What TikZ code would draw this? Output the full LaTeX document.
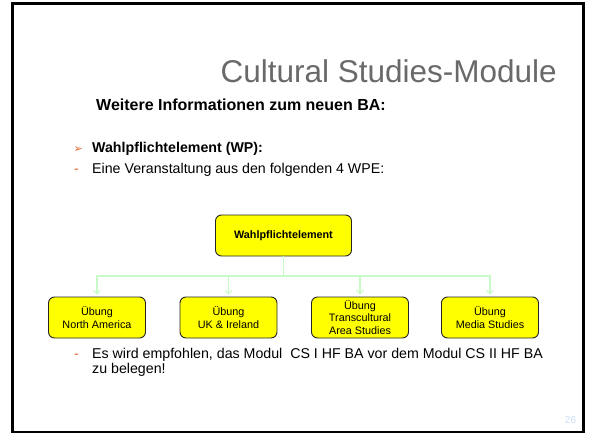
\documentclass[tikz,border=0pt]{standalone}
\usepackage{fontspec}
\setmainfont{Liberation Sans}
\newfontfamily\symfont{DejaVu Sans}
\usetikzlibrary{arrows.meta}
\definecolor{titlegray}{RGB}{105,105,105}
\definecolor{bulletorange}{RGB}{232,100,44}
\definecolor{connGreen}{RGB}{200,250,200}
\definecolor{pagenum}{RGB}{200,222,245}
\definecolor{boxyellow}{RGB}{255,255,0}
\tikzset{
  wpbox/.style={draw=black!85, fill=boxyellow, rounded corners=6pt, line width=0.9pt,
    minimum width=97pt, minimum height=41pt, align=center, inner sep=1pt,
    font=\fontsize{10.8}{12.3}\selectfont},
  conn/.style={draw=connGreen, line width=1.5pt},
  connarrow/.style={conn, -{Straight Barb[length=3.5pt,width=7pt,line width=1pt]}},
  bodytext/.style={anchor=base west, inner sep=0pt, font=\fontsize{14.2}{15.5}\selectfont},
}
\begin{document}
\begin{tikzpicture}[x=1pt,y=-1pt]
\useasboundingbox (0,0) rectangle (589,433);
\draw[line width=3pt] (12.5,4) rectangle (583,432);

\node[anchor=base east, inner sep=0pt, text=titlegray, font=\fontsize{31.5}{38}\selectfont] (title) at (557,82.5) {Cultural Studies-Module};
\node[anchor=base west, inner sep=0pt, font=\bfseries\fontsize{16}{19}\selectfont] (sub) at (96,110.5) {Weitere Informationen zum neuen BA:};

\node[anchor=base west, inner sep=0pt, text=bulletorange, font=\symfont\fontsize{11}{12}\selectfont] (b1mark) at (73.5,153) {➢};
\node[bodytext, font=\bfseries\fontsize{14.2}{15.5}\selectfont] (wp) at (92,153) {Wahlpflichtelement (WP):};
\node[anchor=base west, inner sep=0pt, text=bulletorange, font=\fontsize{14.2}{15.5}\selectfont] (d1) at (74,173) {-};
\node[bodytext] (eine) at (92,173) {Eine Veranstaltung aus den folgenden 4 WPE:};

\node[wpbox, minimum width=136pt, font=\bfseries\fontsize{10.8}{12}\selectfont] (top) at (283.5,235.5) {Wahlpflichtelement};
\node[wpbox] (na) at (97,317.5) {Übung\\North America};
\node[wpbox] (uk) at (228.5,317.5) {Übung\\UK \& Ireland};
\node[wpbox] (tc) at (360,317.5) {Übung\\Transcultural\\Area Studies};
\node[wpbox] (ms) at (490,317.5) {Übung\\Media Studies};

\coordinate (j) at (283.5,276);
\draw[conn] (top.south) -- (j);
\draw[connarrow, shorten >=2pt] (j) -| (na.north);
\draw[connarrow, shorten >=2pt] (j) -| (uk.north);
\draw[connarrow, shorten >=2pt] (j) -| (tc.north);
\draw[connarrow, shorten >=2pt] (j) -| (ms.north);

\node[anchor=base west, inner sep=0pt, text=bulletorange, font=\fontsize{14.2}{15.5}\selectfont] (d2) at (74,358.5) {-};
\node[anchor=north west, inner sep=0pt, align=left, font=\fontsize{14.2}{15.5}\selectfont] (rec) at (92,348) {Es wird empfohlen, das Modul\ \ CS I HF BA vor dem Modul CS II HF BA\\zu belegen!};

\node[anchor=base, inner sep=0pt, text=pagenum, font=\fontsize{10}{12}\selectfont] (page) at (570.5,423) {26};
\end{tikzpicture}
\end{document}
